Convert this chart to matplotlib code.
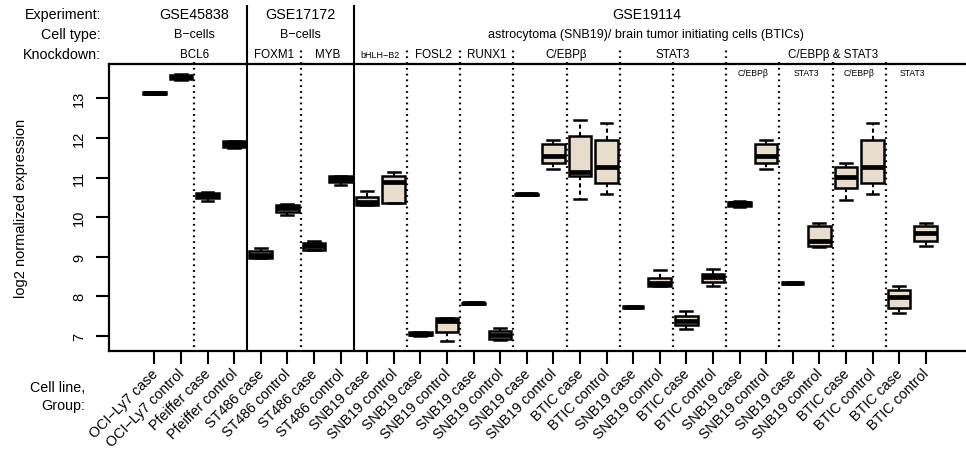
import matplotlib
matplotlib.use("Agg")
import matplotlib.pyplot as plt
import matplotlib.transforms as mtransforms

plt.rcParams['font.family'] = ['Liberation Sans', 'DejaVu Sans']

# ---------------- data ----------------
labels = ["OCI\u2212Ly7 case", "OCI\u2212Ly7 control", "Pfeiffer case", "Pfeiffer control",
          "ST486 case", "ST486 control", "ST486 case", "ST486 control",
          "SNB19 case", "SNB19 control", "SNB19 case", "SNB19 control",
          "SNB19 case", "SNB19 control",
          "SNB19 case", "SNB19 control", "BTIC case", "BTIC control",
          "SNB19 case", "SNB19 control", "BTIC case", "BTIC control",
          "SNB19 case", "SNB19 control", "SNB19 case", "SNB19 control",
          "BTIC case", "BTIC control", "BTIC case", "BTIC control"]

whis_lo = [13.10, 13.47, 10.42, 11.75, 8.98, 10.06, 9.17, 10.82,
           10.30, 10.35, 7.01, 6.87, 7.81, 6.90,
           10.56, 11.21, 10.46, 10.58,
           7.71, 8.25, 7.17, 8.27,
           10.25, 11.21, 8.32, 9.24, 10.44, 10.58, 7.58, 9.28]
q1 = [13.11, 13.48, 10.49, 11.78, 8.98, 10.14, 9.18, 10.89,
      10.31, 10.35, 7.03, 7.11, 7.82, 6.92,
      10.57, 11.36, 11.03, 10.86,
      7.72, 8.27, 7.28, 8.37,
      10.29, 11.36, 8.33, 9.28, 10.74, 10.86, 7.71, 9.41]
median = [13.13, 13.55, 10.56, 11.85, 9.05, 10.22, 9.26, 10.96,
          10.38, 10.90, 7.06, 7.37, 7.83, 7.02,
          10.58, 11.55, 11.13, 11.26,
          7.73, 8.33, 7.39, 8.48,
          10.35, 11.55, 8.34, 9.40, 11.01, 11.26, 7.98, 9.61]
q3 = [13.15, 13.60, 10.62, 11.92, 9.14, 10.30, 9.35, 11.03,
      10.52, 11.05, 7.09, 7.45, 7.84, 7.13,
      10.59, 11.85, 12.05, 11.95,
      7.74, 8.46, 7.51, 8.56,
      10.39, 11.85, 8.35, 9.77, 11.27, 11.95, 8.16, 9.78]
whis_hi = [13.16, 13.61, 10.63, 11.93, 9.23, 10.32, 9.40, 11.04,
           10.65, 11.13, 7.10, 7.45, 7.85, 7.21,
           10.60, 11.95, 12.44, 12.37,
           7.75, 8.66, 7.63, 8.70,
           10.42, 11.95, 8.36, 9.85, 11.36, 12.37, 8.26, 9.85]

yticks = [7, 8, 9, 10, 11, 12, 13]

experiments = ["GSE45838", "GSE17172", "GSE19114"]
exp_centers = [2.5, 6.5, 19.5]
cell_types = ["B\u2212cells", "B\u2212cells",
              "astrocytoma (SNB19)/ brain tumor initiating cells (BTICs)"]
knockdowns = ["BCL6", "FOXM1", "MYB", "bHLH\u2212B2", "FOSL2", "RUNX1",
              "C/EBP\u03b2", "STAT3", "C/EBP\u03b2 & STAT3"]
kd_centers = [2.5, 5.5, 7.5, 9.5, 11.5, 13.5, 16.5, 20.5, 26.5]
sub_labels = ["C/EBP\u03b2", "STAT3", "C/EBP\u03b2", "STAT3"]
sub_centers = [23.5, 25.5, 27.5, 29.5]

solid_seps = [4.5, 8.5]
major_dotted = [6.5, 10.5, 12.5, 14.5, 18.5, 22.5]
minor_dotted = [2.5, 16.5, 20.5, 24.5, 26.5, 28.5]

# ---------------- figure ----------------
W, H = 966, 452
fig = plt.figure(figsize=(W / 100, H / 100), dpi=100)
left_px, top_px, bot_px = 109, 65, 352
right_px = 990
ax = fig.add_axes([left_px / W, 1 - bot_px / H, (right_px - left_px) / W, (bot_px - top_px) / H])

positions = list(range(1, len(labels) + 1))
stats = []
for i in range(len(labels)):
    stats.append(dict(med=median[i], q1=q1[i], q3=q3[i],
                      whislo=whis_lo[i], whishi=whis_hi[i], fliers=[]))

lw = 1.8
ax.bxp(stats, positions=positions, widths=0.85, patch_artist=True,
       showfliers=False, capwidths=0.45,
       boxprops=dict(facecolor='#E8DCCC', edgecolor='black', linewidth=lw),
       medianprops=dict(color='black', linewidth=3.4, solid_capstyle='butt'),
       whiskerprops=dict(color='black', linewidth=1.5, linestyle=(0, (2, 1.5))),
       capprops=dict(color='black', linewidth=lw))

x_per_px = 1 / 26.6
x0 = 1 - (154.3 - left_px) * x_per_px
x1 = 1 + (right_px - 154.3) * x_per_px
ax.set_xlim(x0, x1)
y_per_px = 1 / 39.6
ax.set_ylim(7 - (bot_px - 337) * y_per_px, 13 + (99.3 - top_px) * y_per_px)

for s in ax.spines.values():
    s.set_linewidth(1.6)

ax.set_yticks(yticks)
ax.set_yticklabels([str(v) for v in yticks], rotation=90, va='center', fontsize=10.5)
ax.tick_params(axis='y', length=9.5, width=1.5, pad=7)
ax.set_xticks(positions)
ax.set_xticklabels([])
ax.tick_params(axis='x', length=9.5, width=1.5)

ax.set_ylabel("log2 normalized expression", fontsize=10.5)
ax.yaxis.set_label_coords(-(left_px - 28) / (right_px - left_px), 0.5)

blend = mtransforms.blended_transform_factory(ax.transData, fig.transFigure)
fy = lambda py: 1 - py / H

# x tick labels
for p, lab in zip(positions, labels):
    fig.text(p + 0.05, fy(372), lab, transform=blend, rotation=45,
             rotation_mode='anchor', ha='right', va='center', fontsize=10.3)

fig.text(85 / W, fy(388), "Cell line,", ha='right', va='center', fontsize=10.3)
fig.text(85 / W, fy(406), "Group:", ha='right', va='center', fontsize=10.3)

# header rows
fig.text(101 / W, fy(15), "Experiment:", ha='right', va='center', fontsize=10.3)
fig.text(101 / W, fy(35), "Cell type:", ha='right', va='center', fontsize=10.3)
fig.text(101 / W, fy(55), "Knockdown:", ha='right', va='center', fontsize=10.3)

for c, t in zip(exp_centers, experiments):
    fig.text(c, fy(15), t, transform=blend, ha='center', va='center', fontsize=10.3)
for c, t in zip(exp_centers, cell_types):
    fig.text(c, fy(35), t, transform=blend, ha='center', va='center', fontsize=9)
for c, t in zip(kd_centers, knockdowns):
    fs = 6.5 if t.startswith("bHLH") else 8.4
    fig.text(c, fy(55), t, transform=blend, ha='center', va='center', fontsize=fs)
for c, t in zip(sub_centers, sub_labels):
    fig.text(c, fy(73), t, transform=blend, ha='center', va='center', fontsize=6.2)

# separators
for xs in solid_seps:
    ax.plot([xs, xs], [fy(bot_px), fy(7)], transform=blend, color='black',
            linewidth=1.5, clip_on=False, zorder=3)
for xs in major_dotted:
    ax.plot([xs, xs], [fy(bot_px - 4), fy(51)], transform=blend, color='black',
            linewidth=1.6, linestyle=(0, (0.8, 1.8)), clip_on=False, zorder=3)
for xs in minor_dotted:
    ax.plot([xs, xs], [fy(bot_px - 4), fy(60)], transform=blend, color='black',
            linewidth=1.6, linestyle=(0, (0.8, 1.8)), clip_on=False, zorder=3)

fig.savefig("out.png", dpi=100)
